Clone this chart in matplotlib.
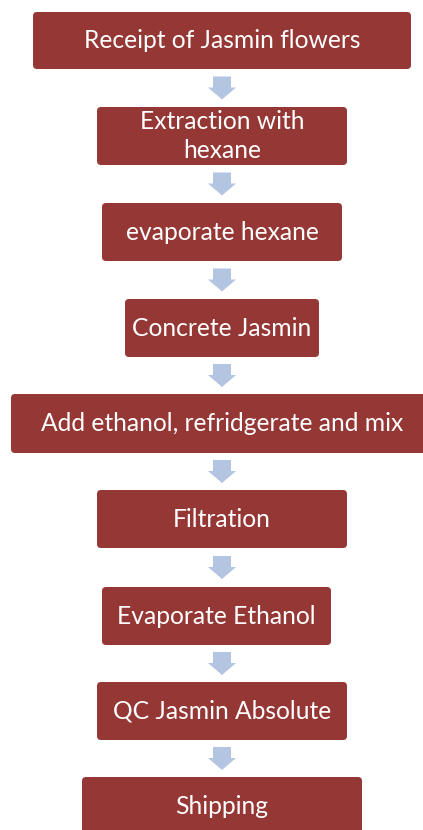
import matplotlib
matplotlib.use("Agg")
import matplotlib.pyplot as plt
from matplotlib.patches import FancyBboxPatch, FancyArrow

# flow steps, top to bottom
steps = [
    "Receipt of Jasmin flowers",
    "Extraction with\nhexane",
    "evaporate hexane",
    "Concrete Jasmin",
    "Add ethanol, refridgerate and mix",
    "Filtration",
    "Evaporate Ethanol",
    "QC Jasmin Absolute",
    "Shipping",
]

# box layout in pixels (left, right, top, bottom)
box_left = [33, 97, 102, 125, 11, 97, 102, 97, 82]
box_right = [411, 347, 342, 319, 433, 347, 331, 347, 362]
box_top = [12, 107, 203, 299, 394, 490, 587, 682, 777]
box_bottom = [69, 165, 261, 357, 453, 548, 645, 740, 840]

BOX_COLOR = "#953735"
ARROW_COLOR = "#B3C5E0"

fig = plt.figure(figsize=(4.23, 8.30), dpi=100)
ax = fig.add_axes([0, 0, 1, 1])
ax.set_xlim(0, 423)
ax.set_ylim(830, 0)
ax.axis("off")

for i, label in enumerate(steps):
    l, r, t, b = box_left[i], box_right[i], box_top[i], box_bottom[i]
    ax.add_patch(FancyBboxPatch((l, t), r - l, b - t,
                                boxstyle="round,pad=0,rounding_size=4",
                                facecolor=BOX_COLOR, edgecolor="none"))
    # last box runs off the bottom edge, so centre text on its visible part
    cy = (t + b) / 2 if i < len(steps) - 1 else t + 29
    ax.text((l + r) / 2, cy, label, color="white",
            ha="center", va="center", fontsize=17.7, family="Lato",
            linespacing=1.35)

    if i < len(steps) - 1:
        gap_mid = (b + box_top[i + 1]) / 2
        ax.add_patch(FancyArrow(222, gap_mid - 11.5, 0, 23, width=18,
                                head_width=28, head_length=12,
                                length_includes_head=True,
                                color=ARROW_COLOR, linewidth=0))

fig.savefig("out.png", dpi=100)
